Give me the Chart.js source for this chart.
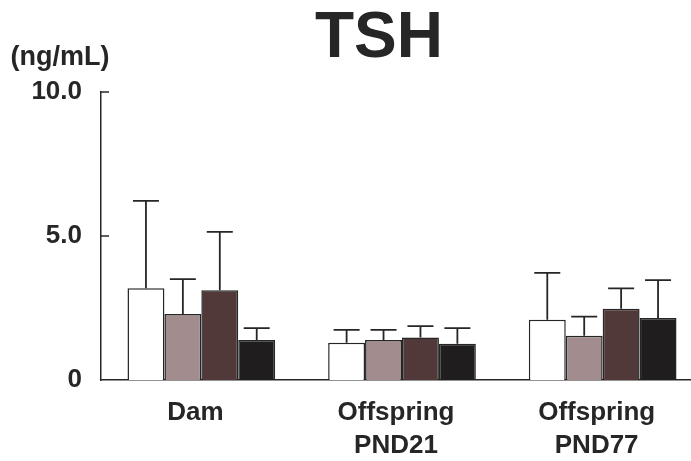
<!DOCTYPE html>
<html>
<head>
<meta charset="utf-8">
<script src="https://cdn.jsdelivr.net/npm/chart.js@4/dist/chart.umd.min.js"></script>
<style>
  html, body { margin: 0; padding: 0; background: #fff; overflow: hidden; }
  #wrap { width: 760px; height: 461px; }
</style>
</head>
<body>
<div id="wrap"><canvas id="tshChart" width="760" height="461"></canvas></div>
<script>
// ---- data ----
const categories = ['Dam', ['Offspring', 'PND21'], ['Offspring', 'PND77']];
const groupNames = ['Group 1', 'Group 2', 'Group 3', 'Group 4'];

const group1Mean = [3.19, 1.29, 2.09];
const group2Mean = [2.29, 1.39, 1.54];
const group3Mean = [3.12, 1.48, 2.47];
const group4Mean = [1.39, 1.26, 2.15];

const group1Sd = [3.03, 0.45, 1.63];
const group2Sd = [1.21, 0.35, 0.66];
const group3Sd = [2.02, 0.39, 0.71];
const group4Sd = [0.41, 0.54, 1.32];

const yTicks = [0, 5, 10];
const yTickLabels = ['0', '5.0', '10.0'];

const INK = '#262626';
const FONT = "'Liberation Sans', Arial, sans-serif";

// error bars (mean + SD, upper side only)
const errorBars = {
  id: 'errorBars',
  afterDatasetsDraw(chart) {
    const ctx = chart.ctx;
    const y = chart.scales.y;
    ctx.save();
    ctx.strokeStyle = INK;
    ctx.lineWidth = 1.8;
    chart.data.datasets.forEach((ds, di) => {
      const meta = chart.getDatasetMeta(di);
      meta.data.forEach((bar, i) => {
        const top = y.getPixelForValue(ds.data[i] + ds.sd[i]);
        ctx.beginPath();
        ctx.moveTo(bar.x, bar.y);
        ctx.lineTo(bar.x, top);
        ctx.moveTo(bar.x - 13, top);
        ctx.lineTo(bar.x + 13, top);
        ctx.stroke();
      });
    });
    ctx.restore();
  }
};

// inward tick marks on the y axis, unit label and the title
const decorations = {
  id: 'decorations',
  afterDraw(chart) {
    const ctx = chart.ctx;
    const y = chart.scales.y;
    ctx.save();
    ctx.strokeStyle = INK;
    ctx.lineWidth = 1.5;
    y.ticks.forEach(t => {
      if (t.value === 0) return;
      const py = y.getPixelForValue(t.value);
      ctx.beginPath();
      ctx.moveTo(y.right, py);
      ctx.lineTo(y.right + 8, py);
      ctx.stroke();
    });
    ctx.fillStyle = INK;
    ctx.textAlign = 'center';
    ctx.textBaseline = 'middle';
    ctx.font = 'bold 27px ' + FONT;
    ctx.fillText('(ng/mL)', 60, 58);
    ctx.font = 'bold 64px ' + FONT;
    ctx.fillText('TSH', 379, 39);
    ctx.restore();
  }
};

const ctx = document.getElementById('tshChart').getContext('2d');
new Chart(ctx, {
  type: 'bar',
  data: {
    labels: categories,
    datasets: [
      { label: groupNames[0], data: group1Mean, sd: group1Sd, backgroundColor: '#ffffff' },
      { label: groupNames[1], data: group2Mean, sd: group2Sd, backgroundColor: '#a38c8d' },
      { label: groupNames[2], data: group3Mean, sd: group3Sd, backgroundColor: '#513839' },
      { label: groupNames[3], data: group4Mean, sd: group4Sd, backgroundColor: '#1f1d1d' }
    ].map(d => Object.assign(d, { borderColor: INK, borderWidth: 1.5, borderSkipped: 'bottom' }))
  },
  options: {
    responsive: false,
    animation: false,
    layout: { padding: { top: 92, right: 57, left: 0, bottom: 0 } },
    datasets: { bar: { barPercentage: 1.0, categoryPercentage: 0.736 } },
    scales: {
      x: {
        grid: { display: false, drawTicks: false },
        border: { color: INK, width: 1.5 },
        ticks: {
          color: INK,
          padding: 16,
          labelOffset: -6,
          maxRotation: 0,
          font: { family: FONT, size: 26, weight: 'bold', lineHeight: 1.27 }
        },
        afterFit(scale) { scale.height = 81; }
      },
      y: {
        min: 0,
        max: 10,
        grid: { display: false, drawTicks: false },
        border: { color: INK, width: 1.5 },
        afterBuildTicks(scale) { scale.ticks = yTicks.map(v => ({ value: v })); },
        ticks: {
          color: INK,
          padding: 19,
          font: { family: FONT, size: 26, weight: 'bold' },
          callback: (v) => yTickLabels[yTicks.indexOf(v)]
        },
        afterFit(scale) { scale.width = 101; }
      }
    },
    plugins: {
      legend: { display: false },
      tooltip: { enabled: false },
      title: { display: false }
    }
  },
  plugins: [errorBars, decorations]
});
</script>
</body>
</html>
